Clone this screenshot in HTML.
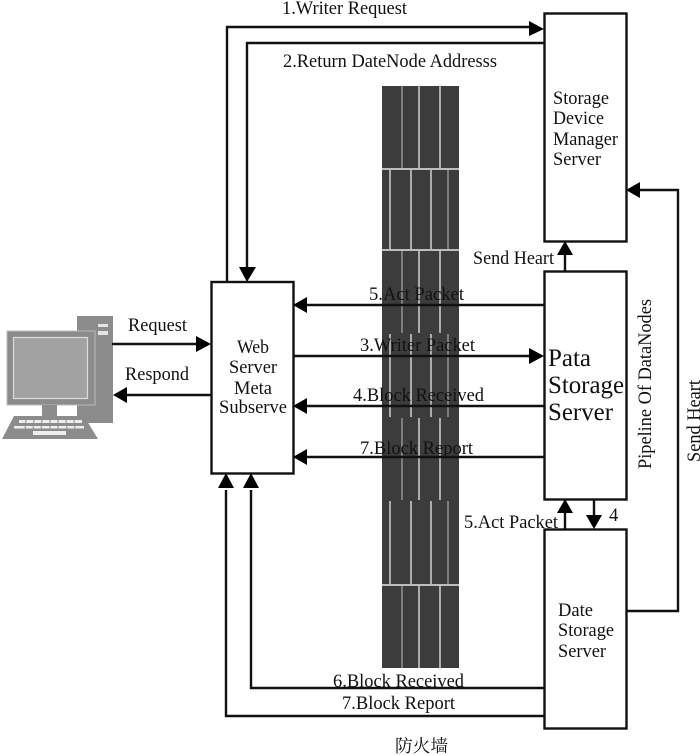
<!DOCTYPE html>
<html><head><meta charset="utf-8"><style>
html,body{margin:0;padding:0;background:#fff}
svg{display:block}
text{font-family:"Liberation Serif","Noto Serif CJK SC",serif;fill:#111;font-size:18.5px}
.l{stroke:#111;stroke-width:2.4;fill:none}
.b{stroke:#111;stroke-width:2.4;fill:#fff}
.a{fill:#000}
</style></head><body>
<svg width="700" height="755" viewBox="0 0 700 755" xmlns="http://www.w3.org/2000/svg">
<!-- firewall -->
<rect x="382" y="86" width="77" height="582" fill="#3c3c3c"/>
<g stroke="#b8b8b8" stroke-width="1.4">
<line x1="382" y1="169" x2="459" y2="169" stroke="#e8e8e8"/>
<line x1="382" y1="250" x2="459" y2="250" stroke="#e8e8e8"/>
<line x1="382" y1="585" x2="459" y2="585" stroke="#e8e8e8"/>
<line x1="402" y1="86" x2="402" y2="168" stroke="#999"/><line x1="419" y1="86" x2="419" y2="168" stroke="#ddd"/><line x1="440" y1="86" x2="440" y2="168" stroke="#ddd"/>
<line x1="390" y1="170" x2="390" y2="249" stroke="#ddd"/><line x1="411" y1="170" x2="411" y2="249" stroke="#ddd"/><line x1="431" y1="170" x2="431" y2="249" stroke="#ddd"/><line x1="448" y1="170" x2="448" y2="249" stroke="#999"/>
<line x1="402" y1="251" x2="402" y2="333" stroke="#999"/><line x1="419" y1="251" x2="419" y2="333" stroke="#ddd"/><line x1="440" y1="251" x2="440" y2="333" stroke="#ddd"/>
<line x1="390" y1="334" x2="390" y2="417" stroke="#ddd"/><line x1="411" y1="334" x2="411" y2="417" stroke="#ddd"/><line x1="431" y1="334" x2="431" y2="417" stroke="#ddd"/><line x1="448" y1="334" x2="448" y2="417" stroke="#999"/>
<line x1="402" y1="418" x2="402" y2="500" stroke="#999"/><line x1="419" y1="418" x2="419" y2="500" stroke="#ddd"/><line x1="440" y1="418" x2="440" y2="500" stroke="#ddd"/>
<line x1="390" y1="501" x2="390" y2="584" stroke="#ddd"/><line x1="411" y1="501" x2="411" y2="584" stroke="#ddd"/><line x1="431" y1="501" x2="431" y2="584" stroke="#ddd"/><line x1="448" y1="501" x2="448" y2="584" stroke="#999"/>
<line x1="402" y1="586" x2="402" y2="668" stroke="#999"/><line x1="419" y1="586" x2="419" y2="668" stroke="#ddd"/><line x1="440" y1="586" x2="440" y2="668" stroke="#ddd"/>
</g>
<!-- computer -->
<rect x="77" y="316" width="36" height="107" fill="#8c8c8c"/>
<rect x="98" y="324" width="10" height="3" fill="#e4e4e4"/><rect x="98" y="331" width="10" height="4" fill="#e4e4e4"/>
<rect x="7" y="331" width="88" height="74" fill="#8c8c8c" stroke="#bdbdbd"/>
<rect x="13.5" y="337.5" width="74" height="61" fill="#a2a2a2" stroke="#dcdcdc" stroke-width="1.2"/>
<rect x="42" y="405" width="15" height="11" fill="#8c8c8c"/>
<polygon points="14,416 84,416 98,439 2,439" fill="#8c8c8c"/>
<g fill="#eee"><rect x="19" y="420" width="63" height="3"/><rect x="14" y="426" width="70" height="2.5"/><rect x="33" y="431" width="33" height="4"/></g>
<g stroke="#8c8c8c" stroke-width="1"><line x1="26" y1="420" x2="25" y2="429"/><line x1="34" y1="420" x2="33" y2="429"/><line x1="42" y1="420" x2="41" y2="429"/><line x1="50" y1="420" x2="50" y2="429"/><line x1="58" y1="420" x2="58" y2="429"/><line x1="66" y1="420" x2="67" y2="429"/><line x1="74" y1="420" x2="75" y2="429"/></g>
<!-- connectors -->
<path class="l" d="M227 282V27H532"/>
<path class="l" d="M544 43H247V270"/>
<path class="l" d="M112 344H198"/><path class="l" d="M211 395H126"/>
<path class="l" d="M306 305H544"/><path class="l" d="M293 356H530"/>
<path class="l" d="M306 406H544"/><path class="l" d="M306 457H544"/>
<path class="l" d="M544 688H251V490"/><path class="l" d="M544 716H226V490"/>
<path class="l" d="M565 271V255"/><path class="l" d="M565 529V512"/><path class="l" d="M594 499V516"/>
<path class="l" d="M626 611H678V190H640"/>
<!-- arrowheads -->
<g class="a">
<polygon points="544,29 529,21 529,36"/>
<polygon points="247,282 239,267 256,267"/>
<polygon points="211,344 196,336 196,352"/>
<polygon points="113,395 127,387 127,403"/>
<polygon points="293,305 307,297 307,313"/>
<polygon points="544,356 529,348 529,364"/>
<polygon points="293,406 307,398 307,414"/>
<polygon points="293,457 307,449 307,465"/>
<polygon points="226,473 218,488 234,488"/>
<polygon points="251,473 243,488 259,488"/>
<polygon points="565,241 557,255 573,255"/>
<polygon points="565,499 557,513 573,513"/>
<polygon points="594,529 586,515 602,515"/>
<polygon points="626,190 640,182 640,198"/>
</g>
<!-- boxes -->
<rect class="b" x="544.5" y="13.5" width="82" height="228"/>
<rect class="b" x="544.5" y="271.5" width="82" height="228"/>
<rect class="b" x="544.5" y="529.5" width="82" height="199"/>
<rect class="b" x="211.5" y="282" width="82" height="191.5"/>
<!-- text -->
<text x="282" y="14" textLength="125" lengthAdjust="spacingAndGlyphs">1.Writer Request</text>
<text x="283" y="67" textLength="214" lengthAdjust="spacingAndGlyphs">2.Return DateNode Addresss</text>
<text x="128" y="331" textLength="59" lengthAdjust="spacingAndGlyphs">Request</text>
<text x="125" y="380" textLength="64" lengthAdjust="spacingAndGlyphs">Respond</text>
<text x="369" y="300" textLength="95" lengthAdjust="spacingAndGlyphs">5.Act Packet</text>
<text x="360" y="351" textLength="115" lengthAdjust="spacingAndGlyphs">3.Writer Packet</text>
<text x="353" y="401" textLength="131" lengthAdjust="spacingAndGlyphs">4.Block Received</text>
<text x="360" y="454" textLength="113" lengthAdjust="spacingAndGlyphs">7.Block Report</text>
<text x="473" y="264" textLength="81" lengthAdjust="spacingAndGlyphs">Send Heart</text>
<text x="464" y="528" textLength="94" lengthAdjust="spacingAndGlyphs">5.Act Packet</text>
<text x="609" y="521">4</text>
<text x="333" y="687" textLength="131" lengthAdjust="spacingAndGlyphs">6.Block Received</text>
<text x="342" y="709" textLength="113" lengthAdjust="spacingAndGlyphs">7.Block Report</text>
<text x="553" y="104" textLength="56" lengthAdjust="spacingAndGlyphs">Storage</text>
<text x="553" y="124" textLength="51" lengthAdjust="spacingAndGlyphs">Device</text>
<text x="553" y="145" textLength="65" lengthAdjust="spacingAndGlyphs">Manager</text>
<text x="553" y="165" textLength="48" lengthAdjust="spacingAndGlyphs">Server</text>
<text x="237" y="353" textLength="32" lengthAdjust="spacingAndGlyphs">Web</text>
<text x="229" y="373" textLength="48" lengthAdjust="spacingAndGlyphs">Server</text>
<text x="234" y="394" textLength="38" lengthAdjust="spacingAndGlyphs">Meta</text>
<text x="219" y="413" textLength="68" lengthAdjust="spacingAndGlyphs">Subserve</text>
<text x="548" y="366" style="font-size:25px" textLength="43" lengthAdjust="spacingAndGlyphs">Pata</text>
<text x="548" y="393" style="font-size:25px" textLength="76" lengthAdjust="spacingAndGlyphs">Storage</text>
<text x="548" y="420" style="font-size:25px" textLength="65" lengthAdjust="spacingAndGlyphs">Server</text>
<text x="558" y="616" textLength="35" lengthAdjust="spacingAndGlyphs">Date</text>
<text x="558" y="636" textLength="56" lengthAdjust="spacingAndGlyphs">Storage</text>
<text x="558" y="657" textLength="48" lengthAdjust="spacingAndGlyphs">Server</text>
<text transform="translate(651,469) rotate(-90)" textLength="170" lengthAdjust="spacingAndGlyphs">Pipeline Of DataNodes</text>
<text transform="translate(700,462) rotate(-90)" textLength="82" lengthAdjust="spacingAndGlyphs">Send Heart</text>
<text x="395" y="752" style="font-size:17.5px" textLength="53" lengthAdjust="spacingAndGlyphs">防火墙</text>
</svg>
</body></html>
